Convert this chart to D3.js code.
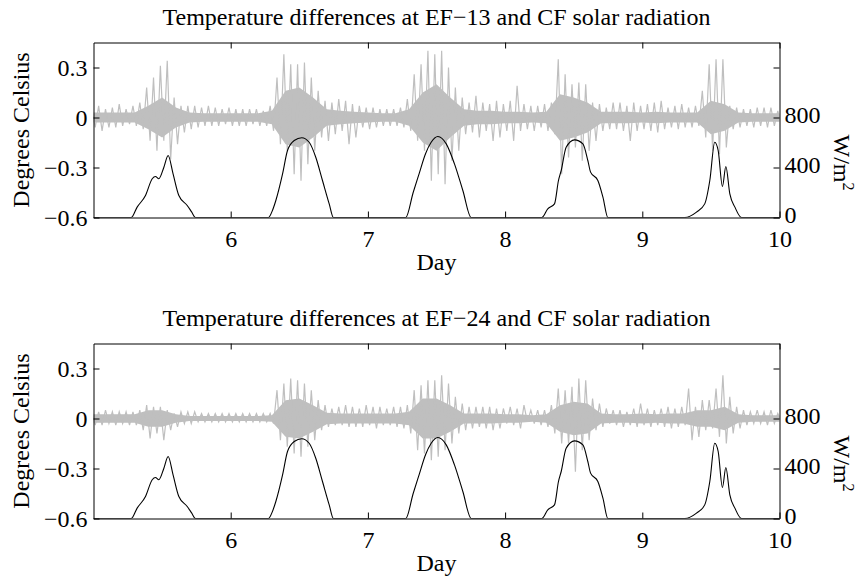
<!DOCTYPE html>
<html>
<head>
<meta charset="utf-8">
<script src="https://cdn.jsdelivr.net/npm/d3@7"></script>
<style>
  body { margin: 0; background: #fff; }
  text { font-family: "Liberation Serif", "Times New Roman", serif; font-size: 24px; fill: #000; }
</style>
</head>
<body>
<div id="container"></div>
<script>
/* DATA */
const titles = [
  "Temperature differences at EF\u221213 and CF solar radiation",
  "Temperature differences at EF\u221224 and CF solar radiation"
];
const dayTicks = [6, 7, 8, 9, 10];
const tempTicks = [-0.6, -0.3, 0, 0.3];
const solarTicks = [0, 400, 800, 1200];
const solarLabels = [0, 400, 800];

// CF solar radiation (W/m2), same trace in both panels
const solarDay = [5.00, 5.275, 5.318, 5.379, 5.428, 5.452, 5.476, 5.513, 5.544, 5.580, 5.622, 5.683, 5.715, 5.743,
  6.275, 6.300, 6.329, 6.378, 6.414, 6.463, 6.518, 6.572, 6.620, 6.669, 6.718, 6.749,
  7.276, 7.330, 7.373, 7.420, 7.460, 7.510, 7.571, 7.631, 7.692, 7.753,
  8.268, 8.311, 8.360, 8.389, 8.409, 8.445, 8.506, 8.567, 8.603, 8.623, 8.676, 8.713, 8.749,
  9.310, 9.395, 9.455, 9.492, 9.528, 9.553, 9.584, 9.609, 9.638, 9.675, 9.723, 10.0];
const solarW = [0, 0, 83, 176, 310, 328, 310, 402, 496, 349, 176, 96, 45, 0,
  0, 45, 136, 349, 536, 616, 638, 602, 482, 296, 109, 0,
  0, 200, 349, 510, 600, 648, 589, 429, 216, 0,
  0, 69, 109, 296, 376, 562, 621, 589, 456, 363, 296, 163, 0,
  0, 43, 109, 296, 602, 536, 248, 408, 189, 83, 0, 0];

// temperature difference trace: max / min every 0.05 day (day 5 to 10)
const hi13 = [.06,.07,.05,.06,.08,.05,.07,.09,.18,.24,.31,.34,.12,.07,.07,.07,.06,.07,.06,.05,
  .06,.05,.05,.05,.05,.04,.07,.24,.38,.32,.32,.33,.24,.16,.10,.09,.11,.10,.08,.07,
  .06,.06,.05,.05,.05,.06,.11,.26,.32,.40,.38,.40,.30,.18,.12,.09,.13,.09,.08,.10,
  .08,.10,.19,.08,.07,.07,.08,.09,.35,.26,.20,.21,.20,.09,.08,.06,.09,.09,.07,.09,
  .07,.08,.09,.10,.06,.07,.08,.06,.07,.16,.32,.35,.35,.07,.06,.05,.05,.06,.06,.06,.04];
const lo13 = [-.06,-.08,-.06,-.06,-.05,-.04,-.05,-.07,-.14,-.20,-.14,-.25,-.16,-.09,-.07,-.06,-.05,-.05,-.05,-.04,
  -.05,-.05,-.05,-.04,-.05,-.05,-.08,-.16,-.20,-.34,-.38,-.28,-.20,-.12,-.14,-.10,-.08,-.16,-.12,-.06,
  -.07,-.06,-.05,-.05,-.05,-.06,-.08,-.14,-.20,-.38,-.34,-.40,-.26,-.20,-.10,-.09,-.12,-.08,-.14,-.12,
  -.08,-.14,-.08,-.07,-.08,-.06,-.08,-.10,-.34,-.24,-.18,-.26,-.20,-.14,-.08,-.07,-.07,-.08,-.14,-.08,
  -.07,-.08,-.09,-.07,-.06,-.07,-.06,-.06,-.05,-.12,-.20,-.22,-.18,-.07,-.06,-.05,-.06,-.05,-.06,-.05,-.04];
const hi24 = [.05,.04,.05,.04,.04,.04,.04,.05,.08,.07,.07,.05,.03,.04,.04,.04,.03,.03,.03,.03,
  .03,.03,.03,.03,.03,.03,.03,.17,.21,.24,.23,.21,.17,.11,.08,.06,.07,.08,.07,.06,
  .08,.07,.07,.06,.07,.07,.08,.17,.20,.23,.23,.26,.21,.13,.09,.07,.07,.07,.07,.06,
  .06,.07,.06,.08,.05,.05,.05,.08,.18,.17,.19,.24,.23,.12,.09,.06,.05,.05,.04,.06,
  .09,.06,.05,.06,.07,.06,.07,.18,.07,.11,.11,.18,.26,.13,.07,.05,.04,.05,.04,.05,.03];
const lo24 = [-.04,-.04,-.03,-.04,-.03,-.04,-.04,-.07,-.12,-.09,-.13,-.07,-.05,-.03,-.03,-.02,-.02,-.02,-.02,-.02,
  -.02,-.02,-.02,-.02,-.02,-.02,-.03,-.13,-.17,-.21,-.23,-.17,-.13,-.07,-.05,-.04,-.04,-.05,-.05,-.05,
  -.04,-.06,-.04,-.04,-.05,-.06,-.09,-.19,-.21,-.25,-.23,-.19,-.15,-.09,-.07,-.06,-.05,-.06,-.07,-.06,
  -.03,-.04,-.06,-.02,-.03,-.04,-.05,-.09,-.15,-.15,-.32,-.19,-.13,-.07,-.05,-.03,-.04,-.05,-.04,-.05,
  -.04,-.05,-.04,-.05,-.06,-.05,-.04,-.13,-.11,-.07,-.06,-.11,-.15,-.09,-.06,-.04,-.03,-.03,-.04,-.03,-.02];

// half width of the dense part of the trace, every 0.1 day
const core13 = [.03,.03,.03,.03,.07,.12,.06,.03,.025,.025,
  .025,.025,.025,.04,.16,.18,.12,.05,.04,.035,
  .03,.025,.025,.05,.15,.20,.12,.05,.04,.04,
  .035,.035,.03,.035,.14,.12,.09,.035,.035,.035,
  .03,.035,.03,.03,.03,.10,.08,.03,.025,.025,.025];
const core24 = [.025,.025,.025,.025,.05,.05,.025,.015,.015,.015,
  .015,.015,.015,.02,.11,.12,.08,.035,.03,.03,
  .03,.03,.03,.04,.12,.12,.08,.03,.03,.03,
  .025,.025,.02,.025,.08,.10,.09,.03,.025,.025,
  .03,.025,.03,.03,.05,.05,.07,.025,.02,.02,.02];

// sample grids
const binDays = d3.range(101).map(i => 5 + i * 0.05);
const coreDays = d3.range(51).map(i => 5 + i * 0.1);

/* LAYOUT */
const width = 860, height = 578;
const left = 93.5, right = 779.5, panelH = 175;
const gray = "#bfbfbf";

const svg = d3.select("#container").append("svg")
  .attr("width", width)
  .attr("height", height);

const x = d3.scaleLinear().domain([5, 10]).range([left, right]);

const panels = [
  { title: titles[0], hi: hi13, lo: lo13, core: core13, top: 42.5 },
  { title: titles[1], hi: hi24, lo: lo24, core: core24, top: 343.5 }
];

const fmtTemp = d => d === 0 ? "0" : d3.format(".1f")(d);

panels.forEach((p, k) => {
  const bottom = p.top + panelH;
  const yT = d3.scaleLinear().domain([-0.6, 0.45]).range([bottom, p.top]);
  const yS = d3.scaleLinear().domain([0, 1400]).range([bottom, p.top]);

  svg.append("clipPath").attr("id", "clip" + k)
    .append("rect")
    .attr("x", left).attr("y", p.top)
    .attr("width", right - left).attr("height", panelH);

  const plot = svg.append("g").attr("clip-path", `url(#clip${k})`);

  // dense band
  plot.append("path")
    .datum(p.core)
    .attr("d", d3.area()
      .x((d, i) => x(coreDays[i]))
      .y0(d => yT(-d))
      .y1(d => yT(d)))
    .attr("fill", gray);

  // spikes: zigzag between max and min of each bin
  const zz = [];
  binDays.forEach((t, i) => {
    zz.push([t - 0.0125, p.hi[i]]);
    zz.push([t + 0.0125, p.lo[i]]);
  });
  plot.append("path")
    .datum(zz)
    .attr("d", d3.line().x(d => x(d[0])).y(d => yT(d[1])))
    .attr("fill", "none")
    .attr("stroke", gray)
    .attr("stroke-width", 1.2);

  // solar radiation
  plot.append("path")
    .datum(solarDay.map((t, i) => [t, solarW[i]]))
    .attr("d", d3.line().curve(d3.curveMonotoneX).x(d => x(d[0])).y(d => yS(d[1])))
    .attr("fill", "none")
    .attr("stroke", "#000")
    .attr("stroke-width", 1.1);

  // AXES (ticks point inward, box from the domain lines)
  svg.append("g")
    .attr("transform", `translate(0,${bottom})`)
    .call(d3.axisBottom(x).tickValues(dayTicks).tickSizeInner(-6).tickSizeOuter(0).tickPadding(12)
      .tickFormat(d3.format("d")));
  svg.append("g")
    .attr("transform", `translate(0,${p.top})`)
    .call(d3.axisTop(x).tickValues(dayTicks).tickSizeInner(-6).tickSizeOuter(0).tickFormat(""));
  svg.append("g")
    .attr("transform", `translate(${left},0)`)
    .call(d3.axisLeft(yT).tickValues(tempTicks).tickSizeInner(-6).tickSizeOuter(0).tickPadding(6).tickFormat(fmtTemp));
  const rAxis = svg.append("g")
    .attr("transform", `translate(${right},0)`)
    .call(d3.axisRight(yS).tickValues(solarTicks).tickSizeInner(-6).tickSizeOuter(0).tickPadding(5)
      .tickFormat(d => solarLabels.includes(d) ? d : ""));
  rAxis.selectAll("text").attr("dy", "0.22em");

  svg.selectAll(".domain, .tick line").attr("stroke", "#000").attr("stroke-width", 1);

  // titles and labels
  svg.append("text")
    .attr("x", (left + right) / 2).attr("y", p.top - 17.5)
    .attr("text-anchor", "middle")
    .text(p.title);

  svg.append("text")
    .attr("x", (left + right) / 2).attr("y", bottom + 52.5)
    .attr("text-anchor", "middle")
    .text("Day");

  svg.append("text")
    .attr("transform", `translate(29,${(p.top + bottom) / 2}) rotate(-90)`)
    .attr("text-anchor", "middle")
    .text("Degrees Celsius");

  const wl = svg.append("text")
    .attr("transform", `translate(834,${p.top + 92}) rotate(90)`)
    .attr("text-anchor", "start");
  wl.append("tspan").text("W/m");
  wl.append("tspan").attr("dy", -9).style("font-size", "16px").text("2");
});
</script>
</body>
</html>
